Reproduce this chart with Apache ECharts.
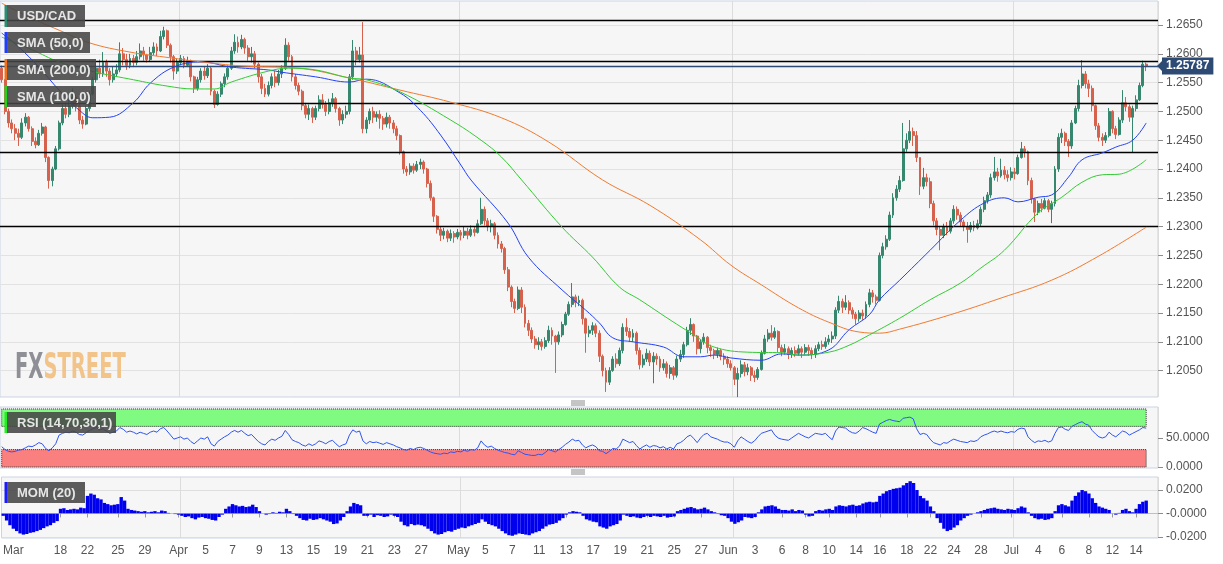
<!DOCTYPE html>
<html><head><meta charset="utf-8">
<script src="https://cdn.jsdelivr.net/npm/echarts@6/dist/echarts.min.js"></script>
<style>html,body{margin:0;padding:0;background:#fff}#c{width:1223px;height:564px}</style>
</head><body><div id="c"></div><script>
// Prices are stored in pips (0.0001) above PRICE_BASE.
const PRICE_BASE = 1.2, PIP = 0.0001;
const firstOpen = 575;
const closes = [555,500,480,470,462,455,480,490,470,448, 442,462,473,420,380,400,435,480,505,495,
 510,525,510,485,478,505,530,555,575,565, 585,570,555,565,572,600,590,580,592,585,
 595,605,598,590,602,612,605,630,640,615, 595,570,585,592,580,588,560,540,555,570,
 562,575,535,512,530,548,560,575,605,620, 612,625,610,595,600,582,560,540,530,545,
 560,550,565,575,615,595,560,545,535,510, 495,505,490,505,520,512,500,515,522,505,
 485,495,500,560,605,590,598,470,485,500, 490,495,488,478,490,480,470,458,430,400,
 395,405,398,408,412,400,375,350,318,295, 285,292,280,288,282,290,285,292,285,295,
 290,305,330,310,300,305,285,270,262,225, 195,170,158,190,160,132,120,105,95,100,
 92,102,120,110,100,112,130,148,165,178, 168,172,140,115,120,128,115,75,50,30,
 50,70,62,85,125,118,108,115,85,60, 70,80,65,75,70,55,62,45,55,42,
 70,78,95,120,130,110,88,100,108,90, 85,78,85,75,70,62,55,35,45,60,
 48,55,42,38,52,80,105,115,108,118, 90,82,88,78,85,80,88,82,90,85,
 78,88,95,92,100,105,110,155,170,160, 168,155,148,140,150,145,165,185,178,172,
 250,265,278,320,350,365,380,435,450,465, 458,420,370,385,378,340,310,295,285,300,
 292,310,330,320,308,300,295,302,298,305, 330,345,355,385,395,388,398,390,385,395,
 392,420,435,430,380,348,325,340,332,345, 330,340,400,455,462,448,440,480,505,545,
 565,548,540,510,475,455,450,458,500,470, 460,485,515,508,490,505,520,545,582,578.7];
const highs = [580,556,505,486,478,470,488,497,492,474, 455,468,480,475,422,404,440,484,512,515,
 520,540,530,515,492,510,535,560,585,590, 603,590,575,578,582,620,610,600,600,598,
 605,618,612,600,612,620,618,640,647,642, 618,598,592,598,596,595,590,562,560,575,
 578,582,578,538,535,552,566,580,612,634, 630,633,628,615,612,605,585,565,548,552,
 566,570,572,580,627,620,598,565,550,538, 515,512,508,510,528,530,518,522,532,525,
 508,502,510,565,624,612,612,655,490,505, 508,500,502,492,498,494,485,475,460,432,
 405,410,410,414,418,415,402,380,352,320, 300,298,295,295,292,296,294,300,298,302,
 300,312,350,335,315,312,308,290,275,265, 230,198,175,196,195,165,138,125,110,108,
 105,108,128,125,112,118,135,152,170,202, 182,180,175,142,128,134,132,120,78,55,
 56,75,80,90,132,141,124,122,118,90, 78,88,85,82,80,75,70,66,60,58,
 76,86,100,126,141,132,112,105,115,110, 95,88,90,88,80,75,68,58,55,68,
 65,62,58,50,56,85,112,122,129,125, 120,95,96,92,90,92,95,92,96,95,
 90,94,100,102,108,112,118,160,180,175, 181,172,160,152,155,156,170,192,190,182,
 255,272,285,326,358,372,388,480,462,485, 472,466,420,402,392,385,345,315,300,305,
 308,315,337,335,325,312,308,308,310,312, 335,352,360,392,421,402,418,405,398,403,
 402,425,447,440,432,385,350,345,348,350, 348,345,405,462,470,465,452,485,510,555,
 589,570,555,545,512,480,462,464,506,502, 475,490,537,525,512,510,528,550,588,585];
const lows = [550,495,472,462,450,440,452,474,465,440, 436,440,458,412,366,370,398,432,476,488,
 490,505,500,478,470,476,500,528,550,558, 560,560,545,550,560,568,580,572,575,577,
 580,590,588,585,586,598,596,603,625,610, 585,555,565,580,575,577,552,532,536,550,
 555,558,528,506,510,525,542,555,572,600, 602,608,600,588,585,575,550,530,525,526,
 540,542,545,558,572,588,552,538,528,502, 488,485,480,485,500,505,492,495,508,498,
 475,478,488,495,555,580,585,462,462,478, 480,482,470,468,472,470,462,450,425,392,
 388,390,392,395,400,392,368,345,308,288, 275,278,273,275,272,278,276,280,278,282,
 283,288,303,302,292,290,278,262,255,218, 188,160,150,155,150,125,110,98,88,86,
 85,88,98,95,46,95,108,128,145,160, 160,162,130,81,108,112,108,65,40,13,
 25,48,55,58,80,110,100,100,78,52, 55,65,58,28,60,48,50,38,36,34,
 38,65,72,92,112,100,78,80,95,80, 74,70,72,68,60,55,50,25,4,38,
 40,42,32,30,34,50,78,100,102,105, 82,75,78,70,72,74,76,72,78,76,
 70,72,84,86,88,95,98,105,150,150, 155,148,140,130,135,138,140,160,168,165,
 170,245,260,275,315,345,360,378,430,445, 440,412,355,365,370,332,302,285,259,280,
 285,288,305,312,300,292,272,290,292,295, 300,325,340,350,380,378,385,382,378,380,
 382,390,418,420,372,340,308,320,325,330, 325,306,335,395,445,440,421,435,478,500,
 540,540,525,500,468,448,440,445,455,462, 452,458,480,500,482,428,500,518,542,570];
// moving averages: [candle index, pips]
const sma50 = [[0,636],[5,612],[11,577],[17,537],[23,502],[27,489],[32,490],[39,515],[44,549],[51,577],[59,586],[68,577],[79,572],[83,568],[93,560],[103,551],[108,556],[118,532],[124,502],[130,459],[136,407],[139,381],[150,306],[156,247],[166,190],[173,155],[177,133],[181,107],[187,100],[196,91],[202,74],[207,74],[211,77],[216,72],[225,68],[231,79],[236,77],[245,86],[251,121],[257,147],[260,173],[266,207],[275,259],[284,311],[291,341],[297,350],[301,343],[307,351],[311,355],[316,386],[320,416],[326,428],[330,438],[335,450],[339,480]];
const sma100 = [[0,629],[9,607],[17,586],[28,568],[39,555],[49,544],[57,539],[63,539],[68,551],[79,570],[85,575],[93,572],[103,558],[108,555],[118,534],[133,485],[142,450],[148,421],[154,381],[166,299],[175,247],[183,195],[189,173],[198,138],[205,112],[211,91],[221,82],[231,81],[236,77],[245,82],[251,94],[257,112],[266,141],[275,173],[284,202],[290,228],[297,259],[307,324],[314,351],[320,377],[326,390],[331,391],[339,416]];
const sma200 = [[0,688],[8,664],[17,641],[26,619],[38,603],[50,593],[59,586],[71,579],[88,575],[103,558],[118,537],[133,516],[148,489],[162,447],[178,381],[192,337],[207,277],[216,233],[225,199],[236,159],[245,134],[254,117],[260,115],[266,122],[281,147],[296,176],[311,207],[325,249],[339,299]];
const rsi = [35,30,27,26,27,29, 30,33,36,35,38,42,40, 32,28,33,40, 55,58,60,59, 62,60,56,55,59, 63,66,68,64,66,
 62,58,60,62,68,65, 60,62,60,57,60,58, 56,60,62,60,66,68, 62,55,48,50, 52,48,50,44,40, 45,50,48,52,40,
 36,44,48,52,55, 60,63,60,63,58, 54,56,50,44,40,38, 44,48,46,50,53,63, 56,47,44,42,38,36,
 40,37,40,45,43,40,44,46, 40,35,38,40, 55,64,60,62,45, 40,44,42,43,41,39,42,40,38,35,
 33,30,29,32,30,33,34,32,29,26, 24,23,22,24,23,26,25,27,26,29,27,30,29,33, 45,38,34,36,32,29,27,
 25,24,22,21,28,25,22,21,20, 20,22,21,25,30,28, 26,30,34,39,43,48,45,46, 38,33,36,38,35,28,
 27,23,27,32,31,36, 48,45,42,44,37,31,35, 38,34,37,36,33,35,31,34,31, 40,42,46,52,55,49,42,
 50,56,58,52,50,48,45,43, 43,40,34,45,52,48, 44,41,45,52,58,60, 62,64,55,50,48, 47,46,50,54,58,55,
 52,50,54,58,57,56,58,52, 47,62,69,68,67, 62,59,58,62,68,66, 63,60,58, 74,77,80,82,80,79,78,84,85,86,83,
 66,56,58,56,48,42, 40,38,42,41,45,48,46, 44,43,42,45,44,46,52,55,57, 60,62,60,62,60,59,61,60,
 65,67,66,52,46, 42,45,44,46,43,45, 58,68,69,65,63,70,73,76,78, 74,72,63,57,52,50,52, 60,55,52,57,62,60,
 55,58,61,64,68,67];
// momentum (20) in pips
const mom = [-20,-60,-100,-130,-150, -170,-180,-175,-165,-160,-150,-140,-125,-110,-100, -80,-65,
 40,45,30,35,40,35,50,45, 150,170,160,130,120, 90,80,70,75,80, 140,110, 40,30,25,20, 15,20,10,15,20,10,25,20,
 5,0,-5,-10, -20,-30,-25,-40,-50,-35, -30,-40,-45,-55,-60, -30,-10,40,60, 80,70,60,65,55, 60,75,55,20,0,
 -10,-5,10,5,15, 10,40,20,-5,-20, -40,-55,-60,-45,-55,-50,-40, -50,-60,-70,-90,-85,-60, -30,20,60,90,80, 70,-20,
 -20,-10,-30,-15,-20,-30,-25,-10,-20,-30, -70,-100,-110,-90,-100,-95,-100,-110,-130,-150,
 -170,-180,-175,-160,-150,-155,-140,-130,-120,-125,-110,-100,-90,-80, -50,-70,-90,-100,-110,-130,-150,
 -170,-185,-190,-180,-170,-175,-180,-185,-170, -160,-150,-130,-110,-95,-90, -80,-60,-40,-10,10,20,15,10,
 -20,-50,-60,-70,-75,-110, -120,-130,-110,-100,-90,-60, -10,-20,-30,-25,-35,-40,-30,
 -20,-30,-20,-25,-30,-20,-35,-30,-25, 20,30,40,50,55,45,35, 40,50,35,20,10,-5,-15,-20,
 -40,-70,-88,-75,-60,-30, -35,-40,-30,10,35,60, 65,70,60,40,30, 30,25,35,20,30,25,
 -10,-25,-20,20,30,25,35,40, 30,60,70,65,60, 70,75,65,70,85,95, 100,95,100,
 150,170,190,200,210,215,220,240,260,275,260, 200,150,130,110,60,20, -40,-80,-130,-150,-140,-120,-100,
 -60,-40,-20,-10,0,10,20,30,40, 45,50,40,35,30,40,35,30, 45,60,50,10,-20, -40,-50,-45,-55,-50,-40,
 20,70,80,70,60,110,150,180,200, 190,170,130,90,60,50,40, 30,0,-10,5,30,40, 20,10,40,80,100,110];
const levels = [658.7, 587.5, 514.6, 429.5, 301.0];
const lastPrice = 1.25787;
const priceTicks = [1.2050,1.2100,1.2150,1.2200,1.2250,1.2300,1.2350,1.2400,1.2450,1.2500,1.2550,1.2600,1.2650];
const rsiTicks = [0, 50];
const momTicks = [0.02, 0, -0.02];
const tickLabels = [[3,'Mar'],[17,'18'],[25,'22'],[34,'25'],[42,'29'],[52,'Apr'],[60,'5'],[68,'7'],[76,'9'],[84,'13'],[92,'15'],[100,'19'],[108,'21'],[116,'23'],[124,'27'],[135,'May'],[143,'5'],[151,'7'],[159,'11'],[167,'13'],[175,'17'],[183,'19'],[191,'21'],[199,'25'],[207,'27'],[215,'Jun'],[223,'3'],[231,'6'],[238,'8'],[245,'10'],[253,'14'],[260,'16'],[268,'18'],[275,'22'],[282,'24'],[290,'28'],[299,'Jul'],[307,'4'],[314,'6'],[322,'8'],[329,'12'],[336,'14']];
const monthLines = [53, 136, 217, 300];

const FONT = '"Liberation Sans", Arial, Helvetica, sans-serif';
const labelMap = new Map(tickLabels);
const monthSet = new Set(monthLines);
const N = closes.length;
const cats = Array.from({length: N + 3}, (_, i) => String(i));
const toPrice = p => Math.round((PRICE_BASE + p * PIP) * 1e6) / 1e6;
const candles = closes.map((c, i) => {
  const o = i === 0 ? firstOpen : closes[i - 1];
  return [toPrice(o), toPrice(c), toPrice(Math.min(lows[i], o, c)), toPrice(Math.max(highs[i], o, c))];
});
const smaData = arr => arr.map(([i, p]) => [i, toPrice(p)]);

function xAxisCfg(g, show) {
  return {
    type: 'category', gridIndex: g, data: cats, boundaryGap: true,
    axisLine: {show: false},
    axisTick: {show: show, alignWithLabel: true, length: 4, interval: (i) => labelMap.has(i), lineStyle: {color: '#999'}},
    axisLabel: {show: show, interval: (i) => labelMap.has(i), formatter: (v, i) => labelMap.get(i) || '',
      color: '#555', fontSize: 12, fontFamily: FONT, margin: 7},
    splitLine: {show: true, interval: (i) => monthSet.has(i), lineStyle: {color: '#dcdcdc', width: 1}}
  };
}
const gridStyle = {show: true, left: 0, right: 65, backgroundColor: '#f6f6f6', borderColor: '#cbd3e4', borderWidth: 1};

function legendBox(x, y, w, h, strip, text) {
  return [
    {type: 'rect', shape: {x: x, y: y, width: w, height: h}, style: {fill: 'rgba(70,70,70,0.88)'}, z: 100},
    {type: 'rect', shape: {x: x - 2.5, y: y, width: 2.5, height: h}, style: {fill: strip}, z: 101},
    {type: 'text', x: x + 10, y: y + h / 2 + 0.5, style: {text: text, fill: '#e6e6e6', font: 'bold 13px ' + FONT, verticalAlign: 'middle'}, z: 101}
  ];
}
function grip(cx, cy) {
  return [-2, 0, 2].map(d => ({type: 'line', shape: {x1: cx - 7, y1: cy + d, x2: cx + 7, y2: cy + d}, style: {stroke: '#8a8a8a', lineWidth: 1}, z: 50}));
}
const graphics = [].concat(
  legendBox(7, 5, 78, 22, '#2e8b74', 'USD/CAD'),
  legendBox(7, 32, 83, 21, '#1f3cff', 'SMA (50,0)'),
  legendBox(7, 59, 89, 21, '#f07018', 'SMA (200,0)'),
  legendBox(7, 86, 89, 21, '#1fd41f', 'SMA (100,0)'),
  legendBox(7, 412, 109, 21, '#22ee22', 'RSI (14,70,30,1)'),
  legendBox(7, 482, 78, 21, '#1a1aff', 'MOM (20)'),
  grip(578, 403), grip(578, 472),
  [{type: 'text', x: 15, y: 351, scaleX: 0.62, z: 1,
    style: {text: '{a|FX}{b|STREET}', verticalAlign: 'top',
      rich: {a: {fill: '#8f8f96', fontSize: 35, fontWeight: 'bold', fontFamily: '"DejaVu Sans Condensed", "DejaVu Sans", sans-serif'},
             b: {fill: '#f2c48a', fontSize: 35, fontWeight: 'bold', fontFamily: '"DejaVu Sans Condensed", "DejaVu Sans", sans-serif'}}}}]
);

const option = {
  animation: false,
  backgroundColor: '#ffffff',
  grid: [
    Object.assign({top: 1, height: 396}, gridStyle),
    Object.assign({top: 407, height: 61}, gridStyle),
    Object.assign({top: 477, height: 61}, gridStyle)
  ],
  xAxis: [xAxisCfg(0, false), xAxisCfg(1, false), xAxisCfg(2, true)],
  yAxis: [
    {gridIndex: 0, type: 'value', position: 'right', min: 1.20042, max: 1.26917, splitNumber: 13,
      axisLine: {show: false},
      axisTick: {show: true, length: 5, customValues: priceTicks, lineStyle: {color: '#8c8c8c'}},
      axisLabel: {customValues: priceTicks, formatter: v => v.toFixed(4), color: '#555', fontSize: 12, fontFamily: FONT, margin: 8},
      splitLine: {show: true, lineStyle: {color: '#e2e2e2'}}},
    {gridIndex: 1, type: 'value', position: 'right', min: -1.7, max: 103.4,
      axisLine: {show: false},
      axisTick: {show: true, length: 5, customValues: rsiTicks, lineStyle: {color: '#8c8c8c'}},
      axisLabel: {customValues: rsiTicks, formatter: v => v.toFixed(4), color: '#555', fontSize: 12, fontFamily: FONT, margin: 8},
      splitLine: {show: false}},
    {gridIndex: 2, type: 'value', position: 'right', min: -0.0209, max: 0.0311, splitNumber: 3,
      axisLine: {show: false},
      axisTick: {show: true, length: 5, customValues: momTicks, lineStyle: {color: '#8c8c8c'}},
      axisLabel: {customValues: momTicks, formatter: v => (Math.abs(v) < 1e-9 ? '-0.0000' : v.toFixed(4)), color: '#555', fontSize: 12, fontFamily: FONT, margin: 8},
      splitLine: {show: true, lineStyle: {color: '#dedede'}}}
  ],
  series: [
    {type: 'candlestick', name: 'USD/CAD', xAxisIndex: 0, yAxisIndex: 0, data: candles, barWidth: '72%',
      itemStyle: {color: '#36876e', color0: '#d6624e', borderColor: '#36876e', borderColor0: '#d6624e', borderWidth: 1},
      markLine: {symbol: 'none', silent: true, animation: false, precision: 6, z: 3,
        data: levels.map(l => ({yAxis: toPrice(l), lineStyle: {color: '#000', width: 1.3, type: 'solid'}, label: {show: false}}))
          .concat([{yAxis: lastPrice, lineStyle: {color: '#2d4a75', width: 1.3, type: 'solid'},
            label: {show: true, position: 'end', formatter: lastPrice.toFixed(5), backgroundColor: '#2d4a75', color: '#fff',
              fontWeight: 'bold', fontSize: 12, fontFamily: FONT, padding: [3, 4, 2, 4], distance: 4}}])}},
    {type: 'line', name: 'SMA (50,0)', xAxisIndex: 0, yAxisIndex: 0, data: smaData(sma50), smooth: 0.4, showSymbol: false, z: 4,
      lineStyle: {color: '#2342f5', width: 1}},
    {type: 'line', name: 'SMA (200,0)', xAxisIndex: 0, yAxisIndex: 0, data: smaData(sma200), smooth: 0.4, showSymbol: false, z: 4,
      lineStyle: {color: '#f07b30', width: 1}},
    {type: 'line', name: 'SMA (100,0)', xAxisIndex: 0, yAxisIndex: 0, data: smaData(sma100), smooth: 0.4, showSymbol: false, z: 4,
      lineStyle: {color: '#33cc33', width: 1}},
    {type: 'line', name: 'RSI', xAxisIndex: 1, yAxisIndex: 1, data: rsi, showSymbol: false, z: 4,
      lineStyle: {color: '#2f55f0', width: 1},
      markArea: {silent: true, itemStyle: {borderColor: '#333', borderWidth: 1, borderType: 'dotted'},
        data: [[{xAxis: 0, yAxis: 70, itemStyle: {color: '#80fa80'}}, {xAxis: N - 1, yAxis: 100}],
               [{xAxis: 0, yAxis: 0, itemStyle: {color: '#fa8080'}}, {xAxis: N - 1, yAxis: 30}]]}},
    {type: 'bar', name: 'MOM', xAxisIndex: 2, yAxisIndex: 2, data: mom.map(v => v * PIP), barCategoryGap: '0%',
      itemStyle: {color: '#0000ee'},
      markLine: {symbol: 'none', silent: true, precision: 6, label: {show: false}, data: [{yAxis: 0}], lineStyle: {color: '#9aa0c0', type: 'dotted', width: 1}}}
  ],
  graphic: graphics
};

const chart = echarts.init(document.getElementById('c'), null, {renderer: 'canvas', width: 1223, height: 564});
chart.setOption(option);
const yPx = chart.convertToPixel({yAxisIndex: 0}, lastPrice);
option.graphic = graphics.concat([{type: 'polygon', shape: {points: [[1157, yPx], [1162, yPx - 5], [1162, yPx + 5]]}, style: {fill: '#2d4a75'}, z: 120}]);
chart.setOption(option, true);
</script></body></html>
